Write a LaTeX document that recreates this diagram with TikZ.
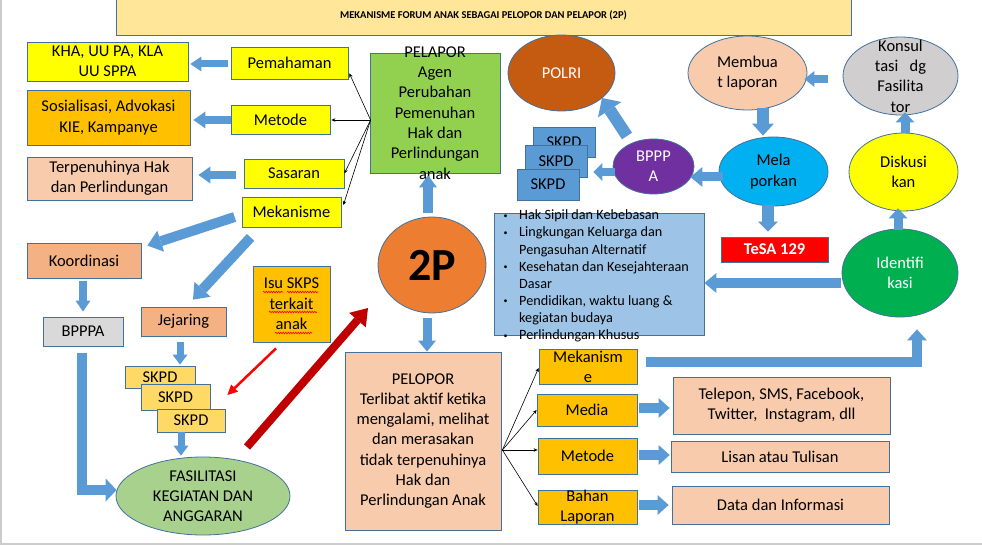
\documentclass[tikz,border=0pt]{standalone}
\usepackage{fontspec}
\setmainfont{Carlito}
\usetikzlibrary{arrows.meta,calc,shapes.geometric,decorations.pathmorphing}
\definecolor{bord}{HTML}{41719C}
\definecolor{arrowc}{HTML}{5B9BD5}
\definecolor{titlec}{HTML}{FFE699}
\definecolor{yel}{HTML}{FFFF00}
\definecolor{gold}{HTML}{FFC000}
\definecolor{peach}{HTML}{F8CBAD}
\definecolor{salmon}{HTML}{F4B183}
\definecolor{lgray}{HTML}{D9D9D9}
\definecolor{lgray2}{HTML}{D0CECE}
\definecolor{lgold}{HTML}{FFD966}
\definecolor{lgreen}{HTML}{A9D18E}
\definecolor{green2}{HTML}{92D050}
\definecolor{green3}{HTML}{00B050}
\definecolor{orng}{HTML}{ED7D31}
\definecolor{brwn}{HTML}{C55A11}
\definecolor{purp}{HTML}{7030A0}
\definecolor{cyn}{HTML}{00B0F0}
\definecolor{rd}{HTML}{FF0000}
\definecolor{drd}{HTML}{C00000}
\definecolor{lblue}{HTML}{9DC3E6}
\newcommand{\mf}{\fontsize{16.5}{20.3}\selectfont}
\newcommand{\blt}{\makebox[17pt][l]{\hspace{1.5pt}\raisebox{1.5pt}{\fontsize{8}{8}\selectfont\textbullet}}}
\newcommand{\ind}{\hspace*{17pt}}
\begin{document}
\begin{tikzpicture}[x=1pt,y=-1pt,
  shp/.style={draw=bord, line width=0.8pt, inner sep=0pt},
  wh/.style args={#1x#2}{minimum width=#1pt, minimum height=#2pt},
  txt/.style={inner sep=0pt, align=center, font=\mf},
  T/.style={label={[txt]center:#1}},
  TW/.style={label={[txt,text=white]center:#1}},
  bar/.style n args={3}{draw=arrowc, line width=#1pt, -{Triangle[length=#3pt,width=#2pt,line width=0pt]}},
  fan/.style={draw=black, line width=0.6pt, -{Stealth[length=4pt,width=3.5pt]}},
  sq/.style={draw=rd, line width=0.6pt, decorate, decoration={snake, amplitude=0.8pt, segment length=2.5pt}}
]
\useasboundingbox (0,0) rectangle (982,545);
\fill[white] (0,0) rectangle (982,545);
\draw[black!20, line width=2pt] (1,-5) -- (1,543.5) -- (990,543.5);

% title
\node[shp, rectangle, fill=titlec, wh=735x40, font=\bfseries\fontsize{10.5}{12}\selectfont] (title) at (483.5,15.5) {MEKANISME FORUM ANAK SEBAGAI PELOPOR DAN PELAPOR (2P)};

% left column
\node[shp, fill=yel, wh=161x39, T={KHA, UU PA, KLA\\UU SPPA}] (kha) at (107.5,61.5) {};
\node[shp, fill=yel, wh=117x32, T=Pemahaman] (pem) at (289.5,63) {};
\node[shp, fill=gold, wh=163x55, T={Sosialisasi, Advokasi\\KIE, Kampanye}] (sos) at (108.5,117.5) {};
\node[shp, fill=yel, wh=99x29, T=Metode] (met) at (280.5,119.5) {};
\node[shp, fill=peach, wh=165x43, T={Terpenuhinya Hak\\dan Perlindungan}] (ter) at (109.5,178.5) {};
\node[shp, fill=yel, wh=100x29, T=Sasaran] (sas) at (294,173.5) {};
\node[shp, fill=yel, wh=99x30, T=Mekanisme] (mek) at (291.5,212) {};
\node[shp, fill=green2, wh=130x120, T={PELAPOR\\Agen\\Perubahan\\Pemenuhan\\Hak dan\\Perlindungan\\anak}] (pelapor) at (435,113) {};

\node[shp, fill=salmon, wh=114x35, T=Koordinasi] (koor) at (84,260.5) {};
\node[shp, fill=lgray, wh=80x29, T=BPPPA] (bpa) at (83,331.5) {};
\node[shp, fill=salmon, wh=85x29, T=Jejaring] (jej) at (183.5,321.5) {};
\node[shp, fill=lgold, wh=70x22, T=SKPD] (sy1) at (160,377) {};
\node[shp, fill=lgold, wh=69x26, T=SKPD] (sy2) at (175.5,397) {};
\node[shp, fill=lgold, wh=68x23, T=SKPD] (sy3) at (191,420.5) {};
\node[shp, fill=gold, wh=77x76, T={Isu SKPS\\terkait\\anak}] (isu) at (291.5,304) {};
\node[shp, ellipse, fill=lgreen, wh=174x78, T={FASILITASI\\KEGIATAN DAN\\ANGGARAN}] (fas) at (203,496) {};

% centre
\node[shp, ellipse, fill=orng, wh=108x96, font=\bfseries\fontsize{46}{46}\selectfont] (twoP) at (432,265) {2P};
\node[shp, fill=peach, wh=156x178, T={PELOPOR\\Terlibat aktif ketika\\mengalami, melihat\\dan merasakan\\tidak terpenuhinya\\Hak dan\\Perlindungan Anak}] (pelopor) at (423,441) {};
\node[shp, fill=lblue, wh=210x122] (blist) at (599,274) {};
\node[anchor=west, inner sep=0pt, align=left, font=\fontsize{14.2}{17.1}\selectfont] (bltxt) at (502,276) {\blt Hak Sipil dan Kebebasan\\
\blt Lingkungan Keluarga dan\\
\ind Pengasuhan Alternatif\\
\blt Kesehatan dan Kesejahteraan\\
\ind Dasar\\
\blt Pendidikan, waktu luang \&\\
\ind kegiatan budaya\\
\blt Perlindungan Khusus};

% right
\node[shp, ellipse, fill=brwn, wh=107x76, TW=POLRI] (polri) at (561.5,73) {};
\node[shp, fill=arrowc, wh=62x30, T=SKPD] (sb1) at (564,142) {};
\node[shp, fill=arrowc, wh=62x32, T=SKPD] (sb2) at (556,161) {};
\node[shp, fill=arrowc, wh=62x31, T=SKPD] (sb3) at (548,184.5) {};
\node[shp, ellipse, fill=purp, wh=81x55, TW={BPPP\\A}] (bpb) at (653.5,166.5) {};
\node[shp, ellipse, fill=peach, wh=119x74, T={Membua\\t laporan}] (memb) at (747.5,73) {};
\node[shp, ellipse, fill=cyn, wh=109x69, T={Mela\\porkan}] (melap) at (773.5,171.5) {};
\node[shp, fill=rd, wh=107x25, label={[txt,text=white,font=\mf\bfseries]center:TeSA 129}] (tesa) at (774.5,249.5) {};
\node[shp, ellipse, fill=lgray2, wh=115x78, T={Konsul\\tasi\ \ \ dg\\Fasilita\\tor}] (kons) at (900.5,76) {};
\node[shp, ellipse, fill=yel, wh=109x78, T={Diskusi\\kan}] (disk) at (903.5,172) {};
\node[shp, ellipse, fill=green3, wh=116x88, TW={Identifi\\kasi}] (ident) at (900,273) {};

% lower right
\node[shp, fill=gold, wh=98x35, T={Mekanism\\e}] (mek2) at (588,366.5) {};
\node[shp, fill=gold, wh=100x32, T=Media] (media) at (587,410) {};
\node[shp, fill=gold, wh=99x36, T=Metode] (met2) at (587.5,456) {};
\node[shp, fill=gold, wh=99x34, T={Bahan\\Laporan}] (bah) at (587.5,507) {};
\node[shp, fill=peach, wh=217x57, T={Telepon, SMS, Facebook,\\Twitter,\ \ Instagram, dll}] (tel) at (781.5,405.5) {};
\node[shp, fill=peach, wh=218x31, T={Lisan atau Tulisan}] (lis) at (780,456.5) {};
\node[shp, fill=peach, wh=217x38, T={Data dan Informasi}] (dat) at (780.5,505) {};

% spell-check squiggles
\draw[sq] ($(isu.center)+(-28.5,-12)$) -- ++(20,0);
\draw[sq] ($(isu.center)+(-4.5,-12)$) -- ++(31,0);
\draw[sq] ($(isu.center)+(-22.5,8)$) -- ++(48,0);
\draw[sq] ($(isu.center)+(-16.5,29)$) -- ++(37,0);
\draw[sq] ($(tesa.center)+(-32.5,7.5)$) -- ++(36,0);

% block arrows
\draw[bar={7}{15}{11}] ($(pem.west)+(-3,1)$) -- ($(kha.east |- pem.west)+(2,1)$);
\draw[bar={8}{17}{12}] ($(met.west)+(0,0.5)$) -- ($(sos.east |- met.west)+(3,0.5)$);
\draw[bar={8}{17}{12}] ($(sas.west)+(-8,1.5)$) -- ($(ter.east |- sas.west)+(6,1.5)$);
\draw[bar={10}{22}{14}] ($(mek.west)+(-7,5)$) -- ($(koor.north east)+(6,3)$);
\draw[bar={10}{22}{14}] ($(mek.south west)+(9,10)$) -- ($(jej.north)+(9.5,-7)$);
\draw[bar={8}{15}{11}] ($(koor.south)+(-1,3)$) -- ($(koor.south |- bpa.north)+(-1,-5)$);
\draw[bar={10}{23}{11}] ($(bpa.south)+(-1,7)$) |- ($(fas.west)+(1,-6)$);
\draw[bar={7}{15}{10}] ($(jej.south)+(-3.5,6)$) -- ($(jej.south |- sy1.north)+(-3.5,-1)$);
\draw[bar={7}{15}{10}] ($(sy3.south)+(-10,0)$) -- ($(sy3.south |- fas.north)+(-10,-1)$);
\draw[bar={10}{18}{12}] ($(twoP.north)+(-4,-4)$) -- ($(twoP.north |- pelapor.south)+(-4,2)$);
\draw[bar={9}{18}{11}] ($(twoP.south)+(-5,5)$) -- ($(twoP.south |- pelopor.north)+(-5,0)$);
\draw[bar={10}{20}{12}] ($(ident.west)+(-1,10)$) -- ($(blist.east |- ident.west)+(0,10)$);
\draw[bar={9}{19}{10}] ($(ident.north)+(-2,1)$) -- ($(ident.north |- disk.south)+(-2,-3)$);
\draw[bar={9}{19}{10}] ($(disk.north)+(1.5,0)$) -- ($(disk.north |- kons.south)+(1.5,-3)$);
\draw[bar={8}{16}{10}] ($(kons.west)+(-15,3)$) -- ($(memb.east |- kons.west)+(-3,3)$);
\draw[bar={12}{22}{12}] ($(memb.south)+(15.5,-2)$) -- ($(memb.south |- melap.north)+(15.5,-1)$);
\draw[bar={9}{20}{12}] ($(melap.west)+(4,5.5)$) -- ($(bpb.east |- melap.west)+(-4,5.5)$);
\draw[bar={12}{20}{10}] ($(melap.south)+(-5.5,-1)$) -- ($(melap.south |- tesa.north)+(-5.5,-5)$);
\draw[bar={8}{18}{9}] ($(bpb.west)+(2,5.5)$) -- ($(sb2.east |- bpb.west)+(6,5.5)$);
\draw[bar={12}{28}{14}] ($(bpb.center)+(-26.5,-30.5)$) -- ($(polri.center)+(40.5,25)$);
\draw[bar={10}{20}{11}] ($(mek2.east)+(9,-4.5)$) -| ($(ident.south)+(17,12)$);
\draw[bar={10}{20}{11}] ($(media.east)+(2,-2)$) -- ($(tel.west |- media.east)+(-3,-2)$);
\draw[bar={10}{20}{11}] ($(met2.east)+(2,-1)$) -- ($(lis.west |- met2.east)+(-1,-1)$);
\draw[bar={10}{20}{11}] ($(bah.east)+(2,-2)$) -- ($(dat.west |- bah.east)+(-3,-2)$);

% red arrows
\draw[draw=rd, line width=2.5pt, -{Triangle[length=10pt,width=10pt,line width=0pt]}] ($(isu.south)+(-15.5,6)$) -- ($(sy2.east)+(17,-2)$);
\draw[draw=drd, line width=8pt, -{Triangle[length=16pt,width=22pt,line width=0pt]}] ($(fas.center)+(44,-49)$) -- ($(twoP.center)+(-64,43)$);

% thin fans
\coordinate (fl) at ($(pelapor.west)+(1,7)$);
\draw[fan] (fl) -- ($(pem.south east)+(1,-6)$);
\draw[fan] (fl) -- ($(met.east)+(1,0.5)$);
\draw[fan] (fl) -- ($(sas.south east)+(0,-15)$);
\draw[fan] (fl) -- ($(mek.east)+(2,-7)$);
\coordinate (fr) at ($(pelopor.east)+(1,9)$);
\draw[fan] (fr) -- ($(mek2.west)+(0,1.5)$);
\draw[fan] (fr) -- (media.west);
\draw[fan] (fr) -- ($(met2.west)+(0,-6)$);
\draw[fan] (fr) -- ($(bah.west)+(0,-1)$);
\end{tikzpicture}
\end{document}
